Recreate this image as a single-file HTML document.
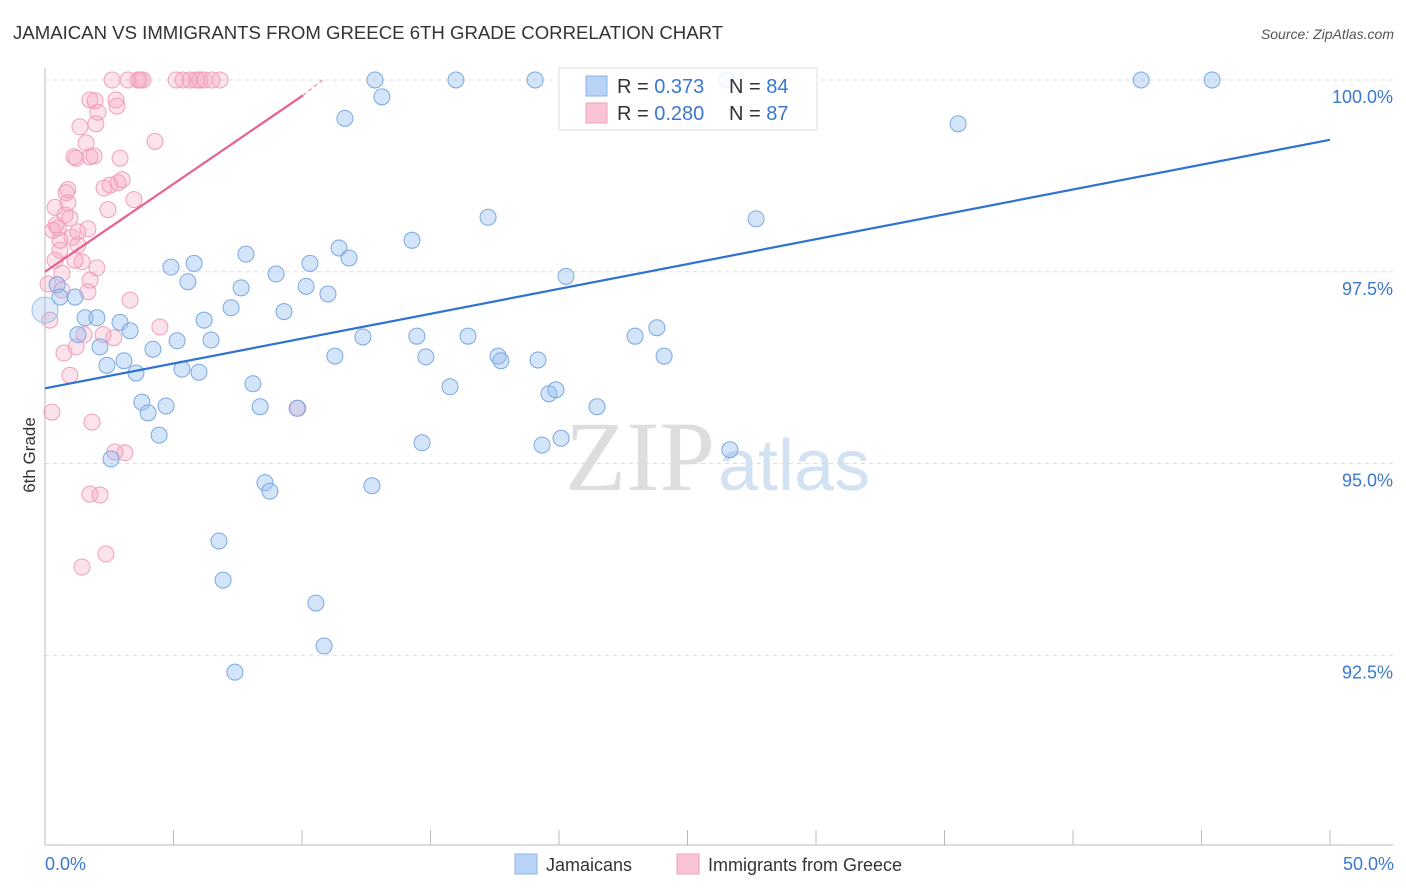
<!DOCTYPE html>
<html><head><meta charset="utf-8"><style>
body{margin:0;width:1406px;height:892px;background:#fff;font-family:"Liberation Sans",sans-serif;overflow:hidden}
svg{position:absolute;left:0;top:0}
</style></head><body>
<svg width="1406" height="892" id="chart">
<text x="13" y="39" font-size="18.6" fill="#333">JAMAICAN VS IMMIGRANTS FROM GREECE 6TH GRADE CORRELATION CHART</text>
<text x="1394" y="39" font-size="14" fill="#555" font-style="italic" text-anchor="end">Source: ZipAtlas.com</text>
<text x="35" y="455" font-size="17" fill="#333" transform="rotate(-90 35 455)" text-anchor="middle">6th Grade</text>
<text x="715" y="490" font-size="100" fill="#ddd" text-anchor="end" font-family="Liberation Serif">ZIP</text>
<text x="718" y="490" font-size="72" fill="#d3e2f3">atlas</text>
<g id="grid"></g><g id="pts"></g><g id="lines"></g>
<rect x="559" y="68" width="258" height="62" fill="rgba(255,255,255,0.85)" stroke="#ddd"/>
<rect x="586" y="76" width="21" height="20" fill="#b8d3f5" stroke="#8ab4e8"/>
<rect x="586" y="103" width="21" height="20" fill="#f9c4d4" stroke="#f0a0b8"/>
<text x="617" y="93" font-size="20" fill="#333">R = <tspan fill="#3a78d0">0.373</tspan></text>
<text x="729" y="93" font-size="20" fill="#333">N = <tspan fill="#3a78d0">84</tspan></text>
<text x="617" y="120" font-size="20" fill="#333">R = <tspan fill="#3a78d0">0.280</tspan></text>
<text x="729" y="120" font-size="20" fill="#333">N = <tspan fill="#3a78d0">87</tspan></text>
<text x="45" y="870" font-size="18" fill="#3a78d0">0.0%</text>
<text x="1394" y="870" font-size="18" fill="#3a78d0" text-anchor="end">50.0%</text>
<rect x="515" y="854" width="22" height="20" fill="#b8d3f5" stroke="#8ab4e8"/>
<text x="546" y="871" font-size="18" fill="#333">Jamaicans</text>
<rect x="677" y="854" width="22" height="20" fill="#f9c4d4" stroke="#f0a0b8"/>
<text x="708" y="871" font-size="18" fill="#333">Immigrants from Greece</text>
</svg>
<script>
const yTicks=[100,97.5,95,92.5];
const yTickLabels=["100.0%","97.5%","95.0%","92.5%"];
const blueX=[0.47,0.58,1.17,1.56,2.02,1.28,2.14,2.41,2.92,3.07,3.31,3.54,3.77,4.01,4.44,4.71,2.57,4.20,4.90,5.14,5.33,5.56,5.80,5.99,6.19,6.46,7.24,7.63,7.82,8.09,8.37,8.56,8.75,8.99,9.30,9.81,10.16,10.31,10.54,10.86,11.01,11.28,11.44,11.83,12.37,11.67,12.72,12.84,13.11,14.28,14.47,14.67,14.82,15.76,15.99,16.46,17.24,17.63,17.74,19.07,19.18,19.34,19.61,19.88,20.08,20.27,21.48,22.96,23.81,24.09,26.65,26.54,27.67,35.53,42.65,45.41,6.77,6.93,7.39];
const blueY=[97.33,97.17,97.17,96.90,96.90,96.68,96.52,96.28,96.84,96.34,96.73,96.18,95.80,95.66,95.37,95.75,95.06,96.49,97.56,96.60,96.23,97.37,97.61,96.19,96.87,96.61,97.03,97.29,97.73,96.04,95.74,94.75,94.64,97.47,96.98,95.72,97.31,97.61,93.18,92.62,97.21,96.40,97.81,97.68,96.65,99.50,94.71,100,99.78,97.91,96.66,95.27,96.39,96.00,100,96.66,98.21,96.40,96.34,100,96.35,95.24,95.91,95.96,95.33,97.44,95.74,96.66,96.77,96.40,95.18,100,98.19,99.43,100,100,93.99,93.48,92.28];
const pinkX=[0.12,0.19,0.27,0.39,0.43,0.51,0.58,0.66,0.82,0.89,0.97,1.05,1.13,1.21,1.28,1.36,1.44,1.52,1.60,1.67,1.75,1.83,1.91,1.98,2.02,2.06,2.14,2.26,2.30,2.37,2.45,2.53,2.61,2.72,2.80,2.84,2.92,3.00,3.11,3.23,3.31,3.46,3.62,3.70,3.81,4.28,4.47,5.10,5.37,5.64,5.88,6.03,6.19,6.50,6.81,1.44,0.97,0.74,1.75,1.21,0.58,1.67,9.84,0.39,2.76,1.95,2.68,0.78,1.28,0.89,0.31,1.75,1.17,0.66,1.75];
const pinkY=[97.34,96.87,95.67,98.34,98.11,98.07,97.78,97.48,98.53,98.57,98.20,97.95,99.00,98.98,97.85,99.39,97.63,96.68,99.18,97.24,97.39,95.54,99.01,99.43,97.55,99.58,94.59,96.68,98.59,93.82,98.31,98.63,100,95.15,99.66,98.66,98.98,98.70,95.14,100,97.13,98.44,100,100,100,99.20,96.78,100,100,100,100,100,100,100,100,93.65,96.15,96.44,94.60,96.52,97.91,98.06,95.72,97.65,99.74,99.73,96.64,98.24,98.02,98.40,98.04,99.74,97.65,97.26,99.00];
const blueLine=[[0,95.98],[50,99.22]];
const pinkLine=[[0,97.5],[10.04,99.8]];
const pinkDash=[[10.04,99.8],[10.8,100]];
const NS="http://www.w3.org/2000/svg";
const sx=v=>45+v*25.7;
const sy=v=>80+(100-v)*76.7;
function mk(t,a,p){const e=document.createElementNS(NS,t);for(const k in a)e.setAttribute(k,a[k]);p.appendChild(e);return e;}
const grid=document.getElementById('grid');
yTicks.forEach((t,i)=>{
 const l=mk('line',{x1:45,x2:1393,y1:sy(t),y2:sy(t),stroke:'#ddd','stroke-dasharray':'4,4'},grid);
 
 
 const tx=mk('text',{x:1393,y:sy(t)+23,'font-size':18,fill:'#3a78d0','text-anchor':'end'},grid);
 tx.textContent=yTickLabels[i];
 
 
});
const ax=mk('line',{x1:45,x2:45,y1:68,y2:845,stroke:'#bbb'},grid);


const bx=mk('line',{x1:45,x2:1393,y1:845,y2:845,stroke:'#bbb'},grid);


for(let k=1;k<=10;k++){const t=mk('line',{x1:sx(k*5),x2:sx(k*5),y1:830,y2:845,stroke:'#bbb'},grid);
 
 }
const pts=document.getElementById('pts');
pinkX.forEach((x,i)=>{const c=mk('circle',{cx:sx(x),cy:sy(pinkY[i]),r:8,fill:'rgba(245,160,188,0.3)',stroke:'#f0a0b8','stroke-width':1},pts);
 
 });
blueX.forEach((x,i)=>{const c=mk('circle',{cx:sx(x),cy:sy(blueY[i]),r:8,fill:'rgba(150,190,240,0.4)',stroke:'#7aa8e0','stroke-width':1},pts);
 
 });
const big=mk('circle',{cx:sx(0),cy:sy(97.0),r:13,fill:'rgba(150,190,240,0.3)',stroke:'#9cc0ea'},pts);


const lines=document.getElementById('lines');
const bl=mk('line',{x1:sx(blueLine[0][0]),y1:sy(blueLine[0][1]),x2:sx(blueLine[1][0]),y2:sy(blueLine[1][1]),stroke:'#2f72d0','stroke-width':2.2},lines);


const pl=mk('line',{x1:sx(pinkLine[0][0]),y1:sy(pinkLine[0][1]),x2:sx(pinkLine[1][0]),y2:sy(pinkLine[1][1]),stroke:'#e8608c','stroke-width':2.2},lines);


const pd=mk('line',{x1:sx(pinkDash[0][0]),y1:sy(pinkDash[0][1]),x2:sx(pinkDash[1][0]),y2:sy(pinkDash[1][1]),stroke:'#f0a0b8','stroke-width':1.5,'stroke-dasharray':'4,3'},lines);


</script>
</body></html>
